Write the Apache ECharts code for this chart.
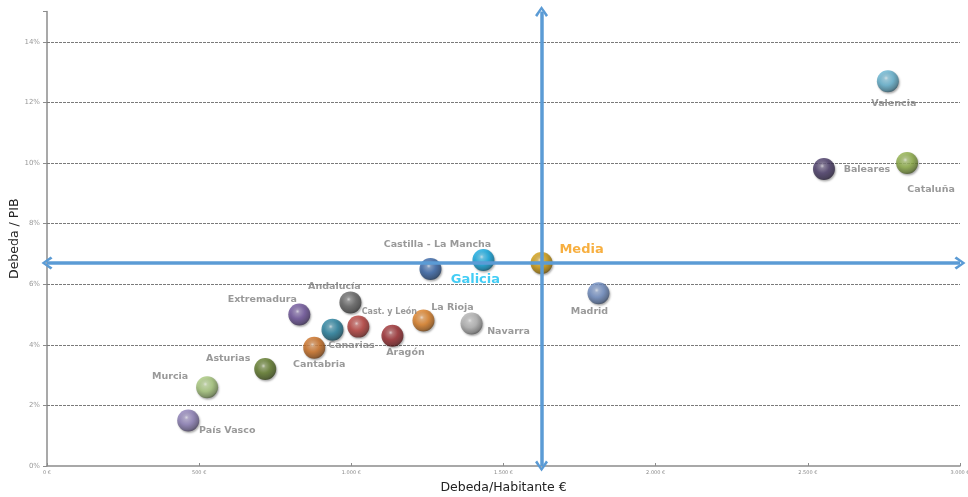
<!DOCTYPE html>
<html>
<head>
<meta charset="utf-8">
<script src="https://cdn.jsdelivr.net/npm/echarts@6/dist/echarts.min.js"></script>
<style>
    html, body { margin: 0; padding: 0; background: #fff; }
    #chart { width: 968px; height: 497px; }
</style>
</head>
<body>
<div id="chart"></div>
<script>
    // datos: deuda por habitante (€) y deuda / PIB (%)
    var regions = ['Valencia', 'Cataluña', 'Baleares', 'Media', 'Galicia', 'Castilla - La Mancha',
        'Madrid', 'Andalucía', 'Extremadura', 'Cast. y León', 'La Rioja', 'Navarra',
        'Canarias', 'Aragón', 'Cantabria', 'Asturias', 'Murcia', 'País Vasco'];
    var debtPerCapita = [2763, 2826, 2553, 1625, 1434, 1260, 1812, 997, 829, 1023, 1237, 1395,
        938, 1135, 878, 717, 526, 464];
    var debtPib = [12.7, 10.0, 9.8, 6.7, 6.8, 6.5, 5.7, 5.4, 5.0, 4.6, 4.8, 4.7,
        4.5, 4.3, 3.9, 3.2, 2.6, 1.5];
    var xTicks = [0, 500, 1000, 1500, 2000, 2500, 3000];
    var yTicks = [2, 4, 6, 8, 10, 12, 14];

    // estilo de cada bola y desplazamiento de su etiqueta
    var ballColors = ['#62B2D0', '#8DAE45', '#463765', '#CF9A0A', '#0AA6E0', '#3463A6',
        '#6C8AC0', '#606060', '#6A4F98', '#B63C38', '#DD7E22', '#B0B0B0',
        '#227E9C', '#9A282C', '#CC6E20', '#5D7826', '#A5C679', '#8B7DB6'];
    var labelOffsets = [[6, 22], [24, 27], [43, 0], [40, -13], [-8, 20], [7, -25],
        [-9, 18], [-16, -16], [-37, -15], [31, -15], [29, -13], [37, 8],
        [19, 16], [13, 17], [5, 17], [-37, -11], [-37, -11], [39, 10]];

    var chart = echarts.init(document.getElementById('chart'));
    var mediaIdx = regions.indexOf('Media');

    // mezcla con blanco (t>0) o negro (t<0)
    function mix(c, t) {
        var r = parseInt(c.substr(1, 2), 16), g = parseInt(c.substr(3, 2), 16), b = parseInt(c.substr(5, 2), 16);
        var tgt = t > 0 ? 255 : 0, a = Math.abs(t);
        r = Math.round(r + (tgt - r) * a);
        g = Math.round(g + (tgt - g) * a);
        b = Math.round(b + (tgt - b) * a);
        return 'rgb(' + r + ',' + g + ',' + b + ')';
    }

    function ball(c) {
        return {
            type: 'radial', x: 0.42, y: 0.36, r: 0.66,
            colorStops: [
                { offset: 0, color: mix(c, 0.75) },
                { offset: 0.15, color: mix(c, 0.3) },
                { offset: 0.5, color: c },
                { offset: 0.85, color: mix(c, -0.3) },
                { offset: 1, color: mix(c, -0.55) }
            ]
        };
    }

    var points = [];
    for (var i = 0; i < regions.length; i++) {
        var lbl = {
            show: true,
            position: 'inside',
            offset: labelOffsets[i],
            formatter: regions[i],
            color: '#808080',
            fontWeight: 'bold',
            fontSize: 9.5,
            fontFamily: 'DejaVu Sans'
        };
        if (regions[i] === 'Media') {
            lbl.color = '#F59B10';
            lbl.fontSize = 13;
        }
        if (regions[i] === 'Galicia') {
            lbl.color = '#14C0F2';
            lbl.fontSize = 13;
        }
        if (regions[i] === 'Cast. y León') {
            lbl.fontSize = 8;
        }
        points.push({
            name: regions[i],
            value: [debtPerCapita[i], debtPib[i]],
            itemStyle: {
                color: ball(ballColors[i]),
                shadowColor: 'rgba(0,0,0,0.4)',
                shadowBlur: 2,
                shadowOffsetX: 1,
                shadowOffsetY: 1.5
            },
            label: lbl
        });
    }

    var gridLines = [];
    for (var k = 0; k < yTicks.length; k++) {
        gridLines.push({ yAxis: yTicks[k] });
    }

    var chevron = 'path://M5,0 L10,8 L8.4,9.6 L5,3.4 L1.6,9.6 L0,8 Z';

    var option = {
        animation: false,
        grid: { left: 47, right: 8, top: 11.5, bottom: 31, outerBoundsMode: 'none', containLabel: false },
        xAxis: {
            type: 'value',
            min: 0,
            max: 3000,
            interval: 500,
            name: 'Debeda/Habitante €',
            nameLocation: 'middle',
            nameGap: 15,
            nameMoveOverlap: false,
            nameTextStyle: { color: '#222', fontSize: 12.5, fontFamily: 'DejaVu Sans' },
            axisLine: { lineStyle: { color: '#8c8c8c', width: 1.5 } },
            axisTick: { show: true, length: 3, inside: true, lineStyle: { color: '#8c8c8c' } },
            axisLabel: {
                fontSize: 5,
                color: '#888',
                margin: 4,
                fontFamily: 'DejaVu Sans',
                formatter: function (v) {
                    if (xTicks.indexOf(v) < 0) return '';
                    return String(v).replace(/\B(?=(\d{3})+(?!\d))/g, '.') + ' €';
                }
            },
            splitLine: { show: false }
        },
        yAxis: {
            type: 'value',
            min: 0,
            max: 15,
            interval: 2,
            name: 'Debeda / PIB',
            nameLocation: 'middle',
            nameGap: 26,
            nameMoveOverlap: false,
            nameTextStyle: { color: '#222', fontSize: 12.5, fontFamily: 'DejaVu Sans' },
            axisLine: { show: true, lineStyle: { color: '#8c8c8c', width: 1.5 } },
            axisTick: { show: true, length: 4, lineStyle: { color: '#8c8c8c' } },
            axisLabel: {
                fontSize: 7,
                color: '#999',
                margin: 7,
                fontFamily: 'DejaVu Sans',
                formatter: function (v) {
                    return v === 15 ? '' : v + '%';
                }
            },
            splitLine: { show: false }
        },
        series: [
            {
                type: 'scatter',
                symbolSize: 22,
                z: 3,
                data: points,
                markLine: {
                    silent: true,
                    symbol: 'none',
                    label: { show: false },
                    lineStyle: { color: '#7a7a7a', type: [3, 1], width: 1 },
                    z: 1,
                    data: gridLines
                }
            },
            {
                type: 'scatter',
                data: [],
                z: 5,
                markLine: {
                    silent: true,
                    symbol: [chevron, chevron],
                    symbolSize: [13, 11],
                    label: { show: false },
                    lineStyle: { color: '#5B9BD5', type: 'solid', width: 3.5 },
                    data: [
                        { xAxis: debtPerCapita[mediaIdx] },
                        { yAxis: debtPib[mediaIdx] }
                    ]
                }
            }
        ]
    };

    chart.setOption(option);
</script>
</body>
</html>
